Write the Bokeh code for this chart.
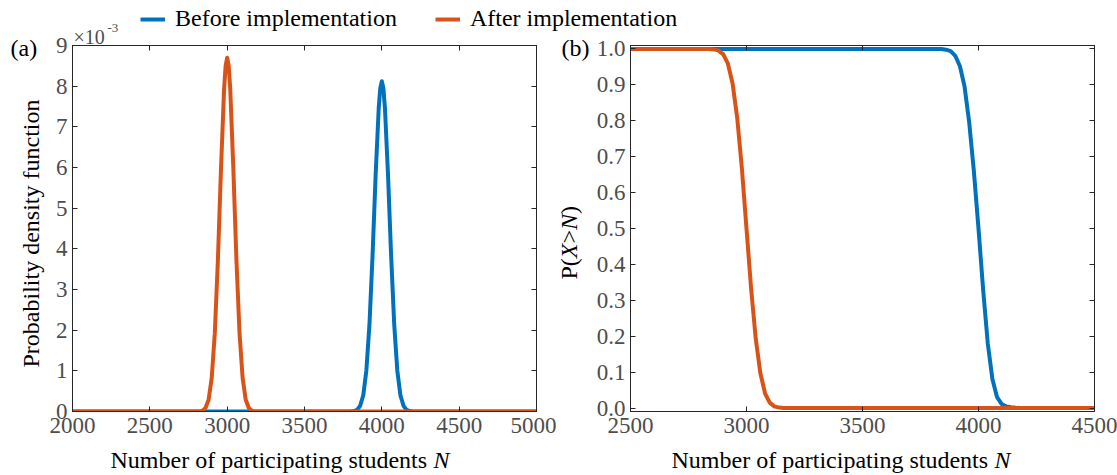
from bokeh.plotting import figure
from bokeh.models import (LinearAxis, FixedTicker, PrintfTickFormatter, Label,
                          Legend, LegendItem, GridBox, Range1d)
from bokeh.layouts import row
from bokeh.embed import file_html
from bokeh.resources import INLINE
from math import pi

# ---------------- data ----------------
# (a) probability density, values in units of 1e-3
before_pdf_x = [2000, 3800, 3820, 3840, 3860, 3880, 3900, 3920, 3940, 3960, 3980, 3990, 4000,
                4010, 4020, 4040, 4060, 4080, 4100, 4120, 4140, 4160, 4180, 4200, 5000]
before_pdf_y = [0, 0, 0.01, 0.04, 0.14, 0.40, 1.01, 2.14, 3.84, 5.82, 7.47, 7.95, 8.12,
                7.95, 7.47, 5.82, 3.84, 2.14, 1.01, 0.40, 0.14, 0.04, 0.01, 0, 0]
after_pdf_x = [2000, 2820, 2840, 2860, 2880, 2900, 2920, 2940, 2960, 2980, 2990, 3000,
               3010, 3020, 3040, 3060, 3080, 3100, 3120, 3140, 3160, 3180, 5000]
after_pdf_y = [0, 0, 0.02, 0.085, 0.29, 0.82, 1.92, 3.72, 5.96, 7.92, 8.50, 8.70,
               8.50, 7.92, 5.96, 3.72, 1.92, 0.82, 0.29, 0.085, 0.02, 0, 0]

# (b) exceedance probability P(X>N)
before_cdf_x = [2500, 3840, 3860, 3880, 3900, 3920, 3940, 3960, 3980, 4000, 4020, 4040,
                4060, 4080, 4100, 4120, 4140, 4160, 4180, 4500]
before_cdf_y = [1.0, 1.0, 0.998, 0.994, 0.981, 0.952, 0.895, 0.795, 0.66, 0.5, 0.33, 0.18,
                0.08, 0.03, 0.011, 0.004, 0.002, 0.0005, 0.0, 0.0]
after_cdf_x = [2500, 2840, 2860, 2880, 2900, 2920, 2940, 2960, 2980, 3000, 3020, 3040,
               3060, 3080, 3100, 3120, 3140, 3160, 4500]
after_cdf_y = [1.0, 1.0, 0.9988, 0.9955, 0.985, 0.959, 0.904, 0.808, 0.668, 0.5, 0.332, 0.192,
               0.096, 0.041, 0.015, 0.0045, 0.0012, 0.0, 0.0]

series_names = ["Before implementation", "After implementation"]
a_xticks = [2000, 2500, 3000, 3500, 4000, 4500, 5000]
a_yticks = [0, 1, 2, 3, 4, 5, 6, 7, 8, 9]
b_xticks = [2500, 3000, 3500, 4000, 4500]
b_yticks = [0.0, 0.1, 0.2, 0.3, 0.4, 0.5, 0.6, 0.7, 0.8, 0.9, 1.0]

# ---------------- style ----------------
BLUE = "#0072BD"
ORANGE = "#D95319"
AXC = "#262626"
TICKC = "#4d4d4d"
FONT = "Liberation Serif"
LW = 4

FRAME_W = 464
FRAME_H = 366
FIG_H = 475
TOP = 45
BOTTOM = FIG_H - TOP - FRAME_H
W1 = 556
W2 = 561


def style_axis(ax, ticks, labels=True, fmt=None):
    ax.ticker = FixedTicker(ticks=ticks)
    ax.major_tick_in = 5
    ax.major_tick_out = 0
    ax.minor_tick_line_color = None
    ax.axis_line_color = AXC
    ax.major_tick_line_color = AXC
    ax.major_label_text_font = FONT
    if labels:
        ax.major_label_text_font_size = "23px"
        ax.major_label_text_color = TICKC
    else:
        ax.major_label_text_font_size = "1px"
        ax.major_label_text_color = None
        ax.major_label_standoff = 0
    if fmt is not None:
        ax.formatter = fmt


def make_fig(xr, yr, left, width, xticks, yticks, yfmt=None):
    p = figure(width=width, height=FIG_H,
               x_range=Range1d(*xr), y_range=Range1d(*yr),
               toolbar_location=None, output_backend="svg",
               min_border_left=left, min_border_right=width - left - FRAME_W,
               min_border_top=TOP, min_border_bottom=BOTTOM)
    p.grid.visible = False
    p.outline_line_color = AXC
    p.background_fill_color = None
    p.border_fill_color = None
    style_axis(p.xaxis[0], xticks)
    p.xaxis[0].major_label_standoff = 6
    style_axis(p.yaxis[0], yticks, fmt=yfmt)
    p.yaxis[0].major_label_standoff = 5
    top_ax = LinearAxis()
    style_axis(top_ax, xticks, labels=False)
    p.add_layout(top_ax, "above")
    right_ax = LinearAxis()
    style_axis(right_ax, yticks, labels=False)
    p.add_layout(right_ax, "right")
    return p


# ---------------- panel (a) ----------------
f1 = make_fig((2000, 5000), (0, 9), 72, W1, a_xticks, a_yticks)
f1.line(before_pdf_x, before_pdf_y, line_color=BLUE, line_width=LW, line_join="round")
f1.line(after_pdf_x, after_pdf_y, line_color=ORANGE, line_width=LW, line_join="round")

# ---------------- panel (b) ----------------
f2 = make_fig((2500, 4500), (-0.0097, 1.0097), 74, W2, b_xticks, b_yticks,
              yfmt=PrintfTickFormatter(format="%.1f"))
f2.line(before_cdf_x, before_cdf_y, line_color=BLUE, line_width=LW, line_join="round")
f2.line(after_cdf_x, after_cdf_y, line_color=ORANGE, line_width=LW, line_join="round")

# ---------------- overlay with legend and free texts ----------------
ov = figure(width=W1 + W2, height=FIG_H, x_range=(0, 1), y_range=(0, 1),
            toolbar_location=None, output_backend="svg", min_border=0,
            x_axis_type=None, y_axis_type=None)
ov.grid.visible = False
ov.outline_line_color = None
ov.background_fill_color = None
ov.border_fill_color = None


def lab(text, cx, base, size=24, style="normal", angle=0, align="left",
        baseline="alphabetic", color="black"):
    # cx, base: pixels from the top-left corner; base is the wanted text baseline
    cy = base - 0.33 * size if baseline == "alphabetic" and angle == 0 else base
    ov.add_layout(Label(x=cx, y=FIG_H - cy, x_units="screen", y_units="screen", text=text,
                        text_font=FONT, text_font_size=f"{size}px", text_font_style=style,
                        text_color=color, angle=angle, text_align=align,
                        text_baseline=baseline))


lab("(a)", 10, 55)
lab("\u00d710", 73, 43, size=20, color=TICKC)
lab("-3", 107, 32, size=13, color=TICKC)
lab("Number of participating students", 110, 467)
lab("N", 433, 467, style="italic")
lab("Probability density function", 30, 233, angle=pi / 2, align="center",
    baseline="middle")
lab("(b)", 561, 55)
lab("Number of participating students", 671, 467)
lab("N", 994, 467, style="italic")
yb = 242 + 37
for txt, st, w in [("P(", "normal", 21.3), ("X", "italic", 14.7), (">", "normal", 13.5),
                   ("N", "italic", 16.0), (")", "normal", 8.0)]:
    lab(txt, 568, yb, style=st, angle=pi / 2, align="left", baseline="alphabetic")
    yb -= w

# legend swatches: the real series drawn out of this overlay's view
r_b = ov.line(before_pdf_x, before_pdf_y, line_color=BLUE, line_width=LW)
r_a = ov.line(after_pdf_x, after_pdf_y, line_color=ORANGE, line_width=LW)
leg = Legend(items=[LegendItem(label=series_names[0], renderers=[r_b]),
                    LegendItem(label=series_names[1], renderers=[r_a])],
             orientation="horizontal", location=(140, FIG_H - 32),
             glyph_width=25, glyph_height=20, label_standoff=10, spacing=38,
             padding=0, margin=0, border_line_color=None, background_fill_alpha=0,
             label_text_font=FONT, label_text_font_size="24px", label_text_color="black")
ov.add_layout(leg)

grid = GridBox(children=[(row(f1, f2), 0, 0), (ov, 0, 0)])

open("out.html", "w").write(file_html(grid, INLINE))
